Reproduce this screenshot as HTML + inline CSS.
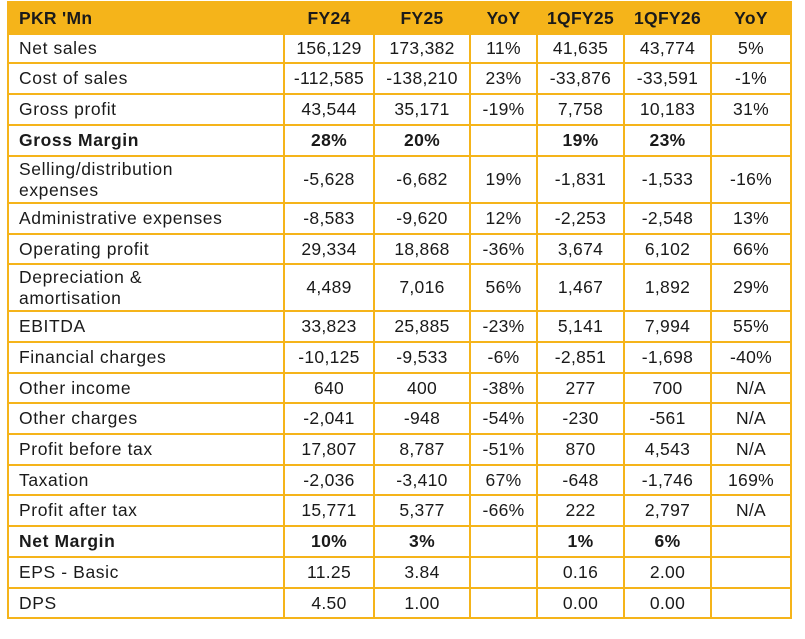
<!DOCTYPE html>
<html><head><meta charset="utf-8"><style>
html,body{margin:0;padding:0;background:#fff;width:805px;height:639px;overflow:hidden}
table{position:absolute;left:7px;top:1px;border-collapse:collapse;table-layout:fixed;font-family:"Liberation Sans",sans-serif;font-size:17.5px;color:#1a1a1a}
td{border:2px solid #F5B41A;text-align:center;padding:0;line-height:21px;white-space:nowrap;letter-spacing:0.3px}
td:first-child{text-align:left;padding-left:10px;white-space:normal;letter-spacing:0.6px}
tr.h td{background:#F5B41A;font-weight:bold;font-size:17.5px;letter-spacing:0.3px}
tr.b td{font-weight:bold}
</style></head><body>
<table>
<colgroup><col style="width:276px"><col style="width:90px"><col style="width:96px"><col style="width:67px"><col style="width:87px"><col style="width:87px"><col style="width:80px"></colgroup>
<tr class="h" style="height:32px"><td>PKR 'Mn</td><td>FY24</td><td>FY25</td><td>YoY</td><td>1QFY25</td><td>1QFY26</td><td>YoY</td></tr>
<tr style="height:29px"><td>Net sales</td><td>156,129</td><td>173,382</td><td>11%</td><td>41,635</td><td>43,774</td><td>5%</td></tr>
<tr style="height:31px"><td>Cost of sales</td><td>-112,585</td><td>-138,210</td><td>23%</td><td>-33,876</td><td>-33,591</td><td>-1%</td></tr>
<tr style="height:31px"><td>Gross profit</td><td>43,544</td><td>35,171</td><td>-19%</td><td>7,758</td><td>10,183</td><td>31%</td></tr>
<tr class="b" style="height:31px"><td>Gross Margin</td><td>28%</td><td>20%</td><td></td><td>19%</td><td>23%</td><td></td></tr>
<tr style="height:47px"><td>Selling/distribution<br>expenses</td><td>-5,628</td><td>-6,682</td><td>19%</td><td>-1,831</td><td>-1,533</td><td>-16%</td></tr>
<tr style="height:31px"><td>Administrative expenses</td><td>-8,583</td><td>-9,620</td><td>12%</td><td>-2,253</td><td>-2,548</td><td>13%</td></tr>
<tr style="height:30px"><td>Operating profit</td><td>29,334</td><td>18,868</td><td>-36%</td><td>3,674</td><td>6,102</td><td>66%</td></tr>
<tr style="height:47px"><td>Depreciation &amp;<br>amortisation</td><td>4,489</td><td>7,016</td><td>56%</td><td>1,467</td><td>1,892</td><td>29%</td></tr>
<tr style="height:31px"><td>EBITDA</td><td>33,823</td><td>25,885</td><td>-23%</td><td>5,141</td><td>7,994</td><td>55%</td></tr>
<tr style="height:31px"><td>Financial charges</td><td>-10,125</td><td>-9,533</td><td>-6%</td><td>-2,851</td><td>-1,698</td><td>-40%</td></tr>
<tr style="height:30px"><td>Other income</td><td>640</td><td>400</td><td>-38%</td><td>277</td><td>700</td><td>N/A</td></tr>
<tr style="height:31px"><td>Other charges</td><td>-2,041</td><td>-948</td><td>-54%</td><td>-230</td><td>-561</td><td>N/A</td></tr>
<tr style="height:31px"><td>Profit before tax</td><td>17,807</td><td>8,787</td><td>-51%</td><td>870</td><td>4,543</td><td>N/A</td></tr>
<tr style="height:30px"><td>Taxation</td><td>-2,036</td><td>-3,410</td><td>67%</td><td>-648</td><td>-1,746</td><td>169%</td></tr>
<tr style="height:31px"><td>Profit after tax</td><td>15,771</td><td>5,377</td><td>-66%</td><td>222</td><td>2,797</td><td>N/A</td></tr>
<tr class="b" style="height:31px"><td>Net Margin</td><td>10%</td><td>3%</td><td></td><td>1%</td><td>6%</td><td></td></tr>
<tr style="height:31px"><td>EPS - Basic</td><td>11.25</td><td>3.84</td><td></td><td>0.16</td><td>2.00</td><td></td></tr>
<tr style="height:30px"><td>DPS</td><td>4.50</td><td>1.00</td><td></td><td>0.00</td><td>0.00</td><td></td></tr>
</table>
</body></html>
